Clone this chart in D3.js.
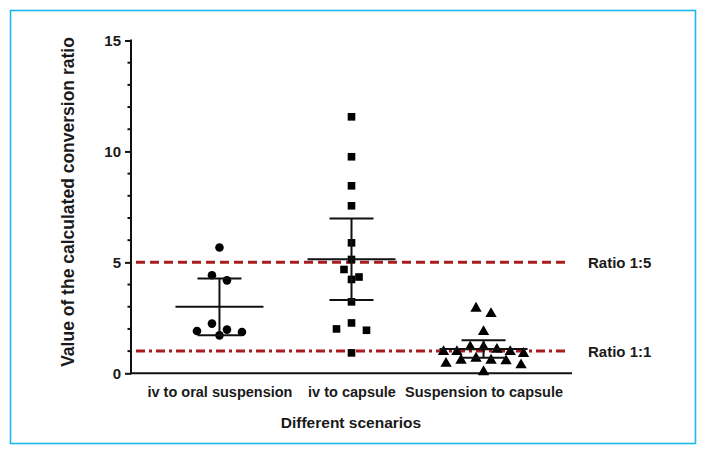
<!DOCTYPE html>
<html>
<head>
<meta charset="utf-8">
<script src="https://cdn.jsdelivr.net/npm/d3@7"></script>
<style>
  html, body { margin: 0; padding: 0; background: #fff; }
  svg text { font-family: "Liberation Sans", Arial, sans-serif; font-weight: bold; fill: #1a1a1a; }
</style>
</head>
<body>
<svg id="chart" width="707" height="455"></svg>
<script>
// ---- data ----
const categories = ["iv to oral suspension", "iv to capsule", "Suspension to capsule"];
const ivToOral = [5.67, 4.42, 4.19, 2.24, 1.97, 1.91, 1.86, 1.71];
const ivToCapsule = [11.56, 9.76, 8.45, 7.55, 5.88, 5.13, 4.68, 4.34, 4.23, 3.22, 2.27, 2.00, 1.94, 0.92];
const suspToCapsule = [2.96, 2.72, 1.91, 1.22, 1.22, 1.11, 1.01, 1.01, 1.01, 0.92, 0.71, 0.62, 0.62, 0.59, 0.48, 0.41, 0.10];
const seriesValues = [ivToOral, ivToCapsule, suspToCapsule];
const yTicks = [0, 5, 10, 15];
const refLines = [{ value: 5, label: "Ratio 1:5" }, { value: 1, label: "Ratio 1:1" }];
const yTitle = "Value of the calculated conversion ratio";
const xTitle = "Different scenarios";

// ---- helpers ----
function tCrit95(nu) {
  const z = 1.959964;
  return z + (z ** 3 + z) / (4 * nu)
    + (5 * z ** 5 + 16 * z ** 3 + 3 * z) / (96 * nu ** 2)
    + (3 * z ** 7 + 19 * z ** 5 + 17 * z ** 3 - 15 * z) / (384 * nu ** 3)
    + (79 * z ** 9 + 776 * z ** 7 + 1482 * z ** 5 - 1920 * z ** 3 - 945 * z) / (92160 * nu ** 4);
}
function stats(vals) {
  const n = vals.length, m = d3.mean(vals), sd = d3.deviation(vals);
  const h = tCrit95(n - 1) * sd / Math.sqrt(n);
  return { mean: m, lo: m - h, hi: m + h };
}

// ---- layout ----
const svg = d3.select("#chart");
svg.append("rect").attr("x", 0).attr("y", 0).attr("width", 707).attr("height", 455).attr("fill", "#fff");
svg.append("rect").attr("x", 10.5).attr("y", 10.5).attr("width", 685).attr("height", 433)
  .attr("fill", "none").attr("stroke", "#1bb7ea").attr("stroke-width", 1.6);

const x0 = 131, x1 = 572, yTop = 40.5, yBot = 373.3;
const y = d3.scaleLinear().domain([0, 15]).range([yBot, yTop]);
const x = d3.scalePoint().domain(categories).range([x0, x1]).padding(0.67);

// reference lines
const red = "#a81c1f";
svg.append("line").attr("x1", 136).attr("x2", 569).attr("y1", y(refLines[0].value)).attr("y2", y(refLines[0].value))
  .attr("stroke", red).attr("stroke-width", 3).attr("stroke-dasharray", "9,5");
svg.append("line").attr("x1", 136).attr("x2", 569).attr("y1", y(refLines[1].value)).attr("y2", y(refLines[1].value))
  .attr("stroke", red).attr("stroke-width", 3).attr("stroke-dasharray", "9,4,3,4");
refLines.forEach(r => {
  svg.append("text").attr("x", 588).attr("y", y(r.value) + 5.5).attr("font-size", 15).text(r.label);
});

// y axis
const yAxis = d3.axisLeft(y).tickValues(yTicks).tickSize(6).tickPadding(4).tickFormat(d3.format("d"));
const gy = svg.append("g").attr("transform", `translate(${x0},0)`).call(yAxis);
gy.select(".domain").remove();
gy.selectAll("line").attr("stroke", "#111").attr("stroke-width", 2);
gy.selectAll("text").attr("font-size", 15).attr("font-family", "Liberation Sans, Arial, sans-serif").attr("font-weight", "bold").attr("fill", "#1a1a1a");
const minor = d3.range(0, 16).filter(v => !yTicks.includes(v));
svg.append("g").selectAll("line").data(minor).join("line")
  .attr("x1", x0 - 3.5).attr("x2", x0).attr("y1", d => y(d)).attr("y2", d => y(d))
  .attr("stroke", "#111").attr("stroke-width", 2);
svg.append("line").attr("x1", x0).attr("x2", x0).attr("y1", yTop - 1).attr("y2", yBot + 1)
  .attr("stroke", "#111").attr("stroke-width", 2);

// x axis
const xAxis = d3.axisBottom(x).tickSize(0).tickPadding(13);
const gx = svg.append("g").attr("transform", `translate(0,${yBot})`).call(xAxis);
gx.select(".domain").remove();
gx.selectAll("text").attr("font-size", 14.5).attr("font-family", "Liberation Sans, Arial, sans-serif").attr("font-weight", "bold").attr("fill", "#1a1a1a");
svg.append("line").attr("x1", x0 - 1).attr("x2", x1).attr("y1", yBot).attr("y2", yBot)
  .attr("stroke", "#111").attr("stroke-width", 2);

// titles
svg.append("text").attr("transform", `translate(74,202) rotate(-90)`)
  .attr("text-anchor", "middle").attr("font-size", 17.5).text(yTitle);
svg.append("text").attr("x", 351).attr("y", 428).attr("text-anchor", "middle").attr("font-size", 15.5).text(xTitle);

// beeswarm layout: rows of near-equal values, spread symmetrically
function swarm(vals) {
  const sorted = vals.map((v, i) => ({ v, i })).sort((a, b) => b.v - a.v);
  const rows = [];
  let cur = null;
  sorted.forEach(p => {
    if (cur && cur[0].v - p.v < 0.4) cur.push(p);
    else { cur = [p]; rows.push(cur); }
  });
  const out = [];
  rows.forEach(row => {
    const n = row.length;
    const step = n > 1 ? Math.min(15, 40 / ((n - 1) / 2)) : 0;
    const slots = d3.range(n).map(k => k - (n - 1) / 2)
      .sort((a, b) => Math.abs(a) - Math.abs(b) || a - b);
    row.forEach((p, k) => out.push({ v: p.v, dx: slots[k] * step }));
  });
  return out;
}

const symbols = [d3.symbolCircle, d3.symbolSquare, d3.symbolTriangle];
const sizes = [58, 58, 56];
categories.forEach((c, gi) => {
  const cx = x(c);
  const pts = swarm(seriesValues[gi]);
  const g = svg.append("g");
  g.selectAll("path").data(pts).join("path")
    .attr("d", d3.symbol().type(symbols[gi]).size(sizes[gi]))
    .attr("transform", d => `translate(${cx + d.dx},${y(d.v) + (gi === 2 ? 0.8 : 0)})`)
    .attr("fill", "#000");
  const s = stats(seriesValues[gi]);
  const ln = (xa, xb, ya, yb) => g.append("line").attr("x1", xa).attr("x2", xb).attr("y1", ya).attr("y2", yb)
    .attr("stroke", "#111").attr("stroke-width", 2);
  ln(cx - 44, cx + 44, y(s.mean), y(s.mean));
  ln(cx - 22, cx + 22, y(s.hi), y(s.hi));
  ln(cx - 22, cx + 22, y(s.lo), y(s.lo));
  ln(cx, cx, y(s.hi), y(s.lo));
});
</script>
</body>
</html>
